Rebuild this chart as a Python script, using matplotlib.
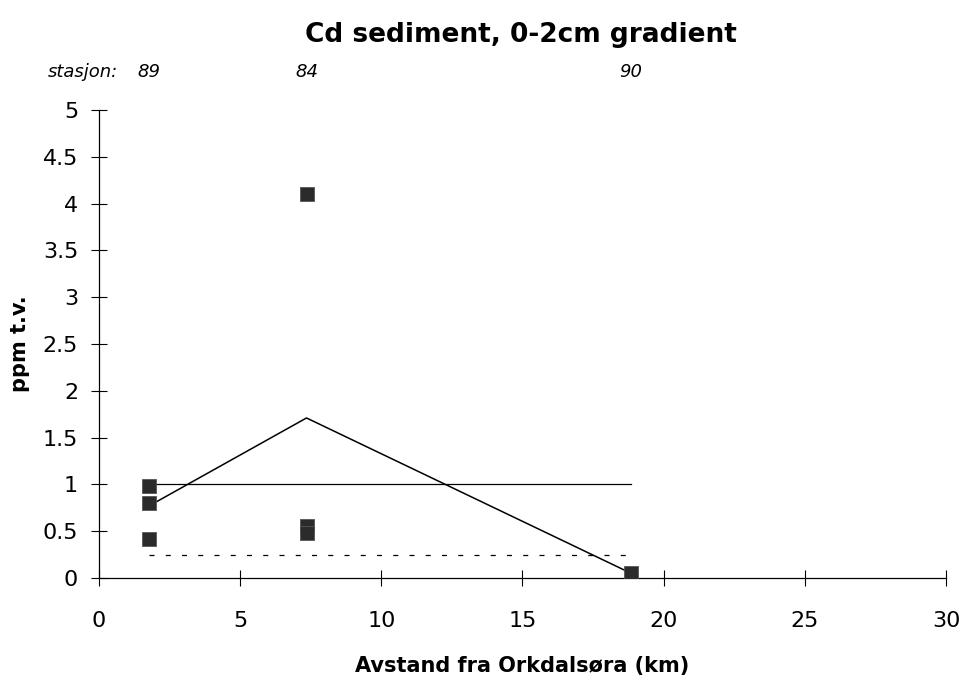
import matplotlib.pyplot as plt
import numpy as np

# --- data ---
stations = ["89", "84", "90"]
dist_km = [1.77, 7.35, 18.85]

# individual samples (x, y)
sample_x = [1.77, 1.77, 1.77, 7.35, 7.35, 7.35, 18.85]
sample_y = [0.98, 0.80, 0.42, 4.10, 0.56, 0.48, 0.05]

# mean per station
mean_y = [0.77, 1.71, 0.05]

# reference levels
level_solid = 1.0
level_dashed = 0.25

x_ticks = [0, 5, 10, 15, 20, 25, 30]
y_ticks = [0, 0.5, 1, 1.5, 2, 2.5, 3, 3.5, 4, 4.5, 5]
y_ticklabels = ["0", "0.5", "1", "1.5", "2", "2.5", "3", "3.5", "4", "4.5", "5"]

plt.rcParams['font.family'] = ['DejaVu Sans']

fig = plt.figure(figsize=(9.64, 6.81), dpi=100)
ax = fig.add_axes([0.1027, 0.1512, 0.8786, 0.6873])

# lines
ax.plot(dist_km, mean_y, color='black', linewidth=1.1, zorder=2)
ax.plot([dist_km[0], dist_km[-1]], [level_solid, level_solid],
        color='black', linewidth=0.9, zorder=2)
ax.plot([dist_km[0], dist_km[-1]], [level_dashed, level_dashed],
        color='black', linewidth=0.9, linestyle=(0, (4, 9)), zorder=2)

# samples
ax.plot(sample_x, sample_y, linestyle='none', marker='s', markersize=9.5,
        markerfacecolor='#2b2b2b', markeredgecolor='#555555',
        markeredgewidth=0.6, zorder=3)

ax.set_xlim(0, 30)
ax.set_ylim(0, 5)
ax.set_xticks(x_ticks)
ax.set_yticks(y_ticks)
ax.set_yticklabels(y_ticklabels)
ax.spines['top'].set_visible(False)
ax.spines['right'].set_visible(False)
ax.spines['left'].set_linewidth(0.9)
ax.spines['bottom'].set_linewidth(0.9)
ax.tick_params(axis='both', direction='inout', length=12, width=0.8,
               labelsize=16, colors='black')
ax.tick_params(axis='x', pad=18)
ax.tick_params(axis='y', pad=9)

# station labels above the plot
ax.text(-1.8, 5.41, "stasjon:", style='italic', fontsize=13,
        ha='left', va='center')
for x, s in zip(dist_km, stations):
    ax.text(x, 5.41, s, style='italic', fontsize=13, ha='center', va='center')

fig.text(0.54, 0.948, "Cd sediment, 0-2cm gradient", fontsize=19,
         fontweight='bold', ha='center', va='center')
ax.set_xlabel("Avstand fra Orkdalsøra (km)", fontsize=15, fontweight='bold',
              labelpad=18)
ax.set_ylabel("ppm t.v.", fontsize=15, fontweight='bold')
ax.yaxis.set_label_coords(-0.081, 0.5)

fig.savefig("out.png", dpi=100)
